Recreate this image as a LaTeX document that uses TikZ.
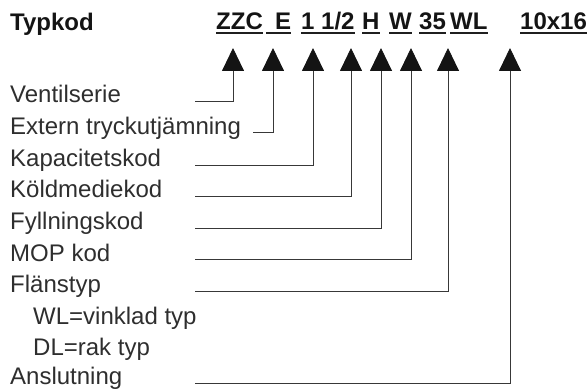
\documentclass[tikz,border=0pt]{standalone}
\usepackage{fontspec}
\setmainfont{Liberation Sans}
\usetikzlibrary{arrows.meta}
\begin{document}
\begin{tikzpicture}[x=1pt,y=-1pt,
  lbl/.style={anchor=base west,inner sep=0pt,font=\fontsize{24}{28}\selectfont,text=black!82},
  code/.style={anchor=base west,inner sep=0pt,font=\fontsize{24}{28}\selectfont\bfseries,text=black!92},
  ul/.style={line width=1.4pt,black!88},
  conn/.style={line width=0.9pt,black!78,-{Triangle[width=22pt,length=23pt,color=black!92]}}]
\useasboundingbox (0,0) rectangle (588,390);

% header
\node[code] (typ) at (10,31) {Typkod};
\node[code] (c1) at (216,30) {ZZC};
\node[code] (c2) at (275,30) {E};
\node[code] (c3) at (301,30) {1 1/2};
\node[code] (c4) at (362,30) {H};
\node[code] (c5) at (389,30) {W};
\node[code] (c6) at (419,30) {35};
\node[code] (c7) at (450,30) {WL};
\node[code] (c8) at (520,30) {10x16};
\foreach \c in {c1,c3,c4,c5,c6,c7,c8}
  \draw[ul] ([yshift=-3pt]\c.base west) -- ([yshift=-3pt]\c.base east);
\draw[ul] ([yshift=-3pt,xshift=-9pt]c2.base west) -- ([yshift=-3pt]c2.base east);

% labels
\node[lbl] (l1) at (10,103) {Ventilserie};
\node[lbl] (l2) at (10,134.6) {Extern tryckutjämning};
\node[lbl] (l3) at (10,166.2) {Kapacitetskod};
\node[lbl] (l4) at (10,197.8) {Köldmediekod};
\node[lbl] (l5) at (10,229.4) {Fyllningskod};
\node[lbl] (l6) at (10,261) {MOP kod};
\node[lbl] (l7) at (10,292.6) {Flänstyp};
\node[lbl] (l8) at (33,324.2) {WL=vinklad typ};
\node[lbl] (l9) at (33,355.8) {DL=rak typ};
\node[lbl] (l10) at (10,384.5) {Anslutning};

% connector ends
\coordinate (s1) at (195,101);  \coordinate (t1) at (233,48);
\coordinate (s2) at (253,132);  \coordinate (t2) at (273,48);
\coordinate (s3) at (195,165);  \coordinate (t3) at (313,48);
\coordinate (s4) at (195,196);  \coordinate (t4) at (351,48);
\coordinate (s5) at (195,228);  \coordinate (t5) at (381,48);
\coordinate (s6) at (195,259);  \coordinate (t6) at (411,48);
\coordinate (s7) at (195,291);  \coordinate (t7) at (448,48);
\coordinate (s8) at (195,383);  \coordinate (t8) at (510,48);

\foreach \i in {1,...,8}
  \draw[conn] (s\i) -| (t\i);
\end{tikzpicture}
\end{document}
